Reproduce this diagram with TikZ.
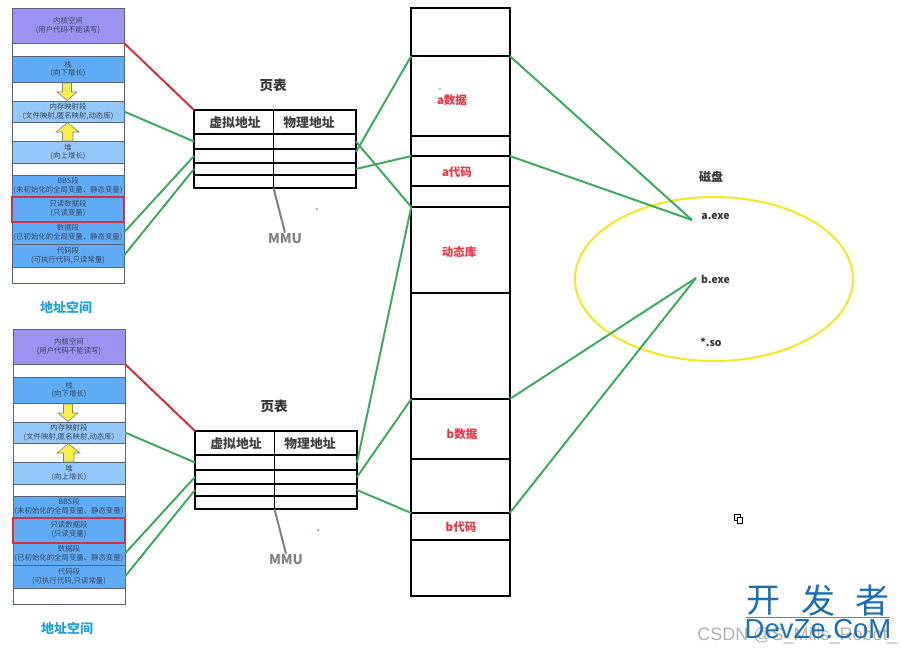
\documentclass[tikz,border=0pt]{standalone}
\usepackage{fontspec}
\setmainfont{Noto Sans CJK SC}
\newfontfamily\latinwm{Liberation Sans}
\usetikzlibrary{calc,shapes.geometric}
\definecolor{purp}{HTML}{9C92F2}
\definecolor{blu}{HTML}{5FABF6}
\definecolor{lblu}{HTML}{93C6F9}
\definecolor{edgeg}{HTML}{5A6478}
\definecolor{segtxt}{HTML}{3A4560}
\definecolor{grn}{HTML}{3FAA62}
\definecolor{rd}{HTML}{D4303F}
\definecolor{ylw}{HTML}{F5E620}
\definecolor{arrowy}{HTML}{F7EE4A}
\definecolor{titleb}{HTML}{1FA0D8}
\definecolor{memred}{HTML}{EE3344}
\definecolor{wmblue}{HTML}{1B6DB8}
\tikzset{
  seg/.style={draw=edgeg,line width=1pt,minimum width=112pt,inner sep=0pt,outer sep=0pt,align=center,
    font=\fontsize{7.4}{8.6}\selectfont,text=segtxt},
  tcell/.style={draw=black,line width=1.1pt,inner sep=0pt,outer sep=0pt,font=\bfseries\fontsize{12.8}{14}\selectfont,text=black!75,text depth=0pt,yshift=0pt},
  mem/.style={draw=black,line width=1.7pt,minimum width=98.5pt,inner sep=0pt,outer sep=0pt},
  memlbl/.style={font=\bfseries\fontsize{11.5}{13}\selectfont,text=memred,inner sep=0pt},
  gline/.style={draw=grn,line width=2pt},
  rline/.style={draw=rd,line width=2pt},
  mline/.style={draw=gray,line width=2pt},
  blockarrow/.style={draw=edgeg!80,fill=arrowy,line width=0.6pt},
  boldlbl/.style={font=\bfseries\fontsize{13.5}{15}\selectfont,text=black!80,inner sep=1pt},
  filelbl/.style={font=\bfseries\fontsize{10.5}{12}\selectfont,text=black!80,inner sep=1pt},
  disklbl/.style={font=\bfseries\fontsize{12}{14}\selectfont,text=black!80,inner sep=1pt},
  mmulbl/.style={font=\bfseries\fontsize{13.5}{15}\selectfont,text=gray,inner sep=1pt},
  addrlbl/.style={font=\bfseries\fontsize{13}{15}\selectfont,text=titleb,inner sep=1pt}
}
% name, y top, height, fill, text
\newcommand{\segbox}[5]{\node[seg,fill=#4,minimum height=#3pt,anchor=north] (#1) at (68,#2) {#5};}
\newcommand{\addrspace}{%
  \segbox{kern}{8}{35}{purp}{内核空间\\(用户代码不能读写)}
  \segbox{w1}{43}{13}{white}{}
  \segbox{stack}{56}{26}{blu}{栈\\(向下增长)}
  \segbox{w2}{82}{19}{white}{}
  \segbox{mmap}{101}{21}{lblu}{内存映射段\\(文件映射,匿名映射,动态库)}
  \segbox{w3}{122}{19}{white}{}
  \segbox{heap}{141}{22}{lblu}{堆\\(向上增长)}
  \segbox{w4}{163}{12}{white}{}
  \segbox{bbs}{175}{21}{blu}{BBS段\\(未初始化的全局变量、静态变量)}
  \segbox{ro}{196}{25}{blu}{只读数据段\\(只读变量)}
  \segbox{data}{221}{23}{blu}{数据段\\(已初始化的全局变量、静态变量)}
  \segbox{code}{244}{23}{blu}{代码段\\(可执行代码,只读常量)}
  \segbox{w5}{267}{16}{white}{}
  \node[draw=rd,line width=1.6pt,minimum width=112pt,minimum height=25pt,inner sep=0pt,anchor=north] (rofr) at (68,196) {};
  \draw[blockarrow] (62.5,83)--(71.5,83)--(71.5,92)--(77,92)--(67,100.5)--(57,92)--(62.5,92)--cycle;
  \draw[blockarrow] (62.5,141)--(73,141)--(73,132)--(79,132)--(67.5,122.5)--(56,132)--(62.5,132)--cycle;
  \node[addrlbl] (addr) at (66,307) {地址空间};
}
\newcommand{\pagetable}{%
  \node[tcell,minimum width=79.5pt,minimum height=24pt,anchor=north west] (lh) at (194,110) {};
  \node[tcell,minimum width=82.5pt,minimum height=24pt,anchor=north west] (rh) at (273.5,110) {};
  \node[tcell,inner sep=0pt,draw=none] (lht) at (235,122) {虚拟地址};
  \node[tcell,inner sep=0pt,draw=none] (rht) at (309,122) {物理地址};
  \node[tcell,minimum width=79.5pt,minimum height=15pt,anchor=north west] (l1) at (194,134) {};
  \node[tcell,minimum width=82.5pt,minimum height=15pt,anchor=north west] (r1) at (273.5,134) {};
  \node[tcell,line width=1.6pt,minimum width=79.5pt,minimum height=14pt,anchor=north west] (l2) at (194,149) {};
  \node[tcell,line width=1.6pt,minimum width=82.5pt,minimum height=14pt,anchor=north west] (r2) at (273.5,149) {};
  \node[tcell,minimum width=79.5pt,minimum height=12pt,anchor=north west] (l3) at (194,163) {};
  \node[tcell,minimum width=82.5pt,minimum height=12pt,anchor=north west] (r3) at (273.5,163) {};
  \node[tcell,minimum width=79.5pt,minimum height=13pt,anchor=north west] (l4) at (194,175) {};
  \node[tcell,minimum width=82.5pt,minimum height=13pt,anchor=north west] (r4) at (273.5,175) {};
  \draw[black,line width=1.7pt] (l2.south west)--(r2.south east) (l2.north west)--(r2.north east);
  \draw[black,line width=1.7pt] (l3.south west)--(r3.south east);
  \node[boldlbl] (ttl) at (273,85) {页表};
  \node[mmulbl] (mmu) at (285,239) {MMU};
  \draw[mline] (l4.south east) -- (mmu.north);
  \fill[grn] (317,209) circle (1pt);
}
\newcommand{\memseg}[3]{\node[mem,minimum height=#3pt,anchor=north] (#1) at (460.5,#2) {};}
\begin{document}
\begin{tikzpicture}[x=1pt,y=-1pt]
\useasboundingbox (0,0) rectangle (901,651);
% memory column
\memseg{m0}{8}{48}
\memseg{adata}{56}{80}
\memseg{m1}{136}{20}
\memseg{acode}{156}{30}
\memseg{m2}{186}{21}
\memseg{dyn}{207}{86}
\memseg{m3}{293}{106}
\memseg{bdata}{399}{60}
\memseg{m4}{459}{54}
\memseg{bcode}{513}{27}
\memseg{m5}{540}{56}
\node[memlbl] (tadata) at (452,100) {a数据};
\node[memlbl] (tacode) at (457,172) {a代码};
\node[memlbl] (tdyn) at (459,252) {动态库};
\node[memlbl] (tbdata) at (462,434) {b数据};
\node[memlbl] (tbcode) at (461,527) {b代码};
\fill[grn] (440,89) circle (0.8pt);
% address spaces and page tables
\begin{scope}[name prefix=a-]
  \addrspace
\end{scope}
\begin{scope}[name prefix=b-,shift={(1,321)}]
  \addrspace
\end{scope}
\begin{scope}[name prefix=c-]
  \pagetable
\end{scope}
\begin{scope}[name prefix=d-,shift={(1,321)}]
  \pagetable
\end{scope}
% disk
\node[draw=ylw,line width=2pt,ellipse,minimum width=278pt,minimum height=164pt,inner sep=0pt] (disk) at (714,279) {};
\node[disklbl] (dlbl) at (711,177) {磁盘};
\node[filelbl] (aexe) at (715.5,217) {a.exe};
\node[filelbl] (bexe) at (715.5,279) {b.exe};
\node[filelbl] (so) at (711,342) {*.so};
\coordinate (fa) at (692,220);
\coordinate (fb) at (696,278);
% connectors
\draw[rline] (a-kern.south east) -- (c-lh.north west);
\draw[rline] (b-kern.south east) -- (d-lh.north west);
\draw[gline] (a-mmap.east) -- (c-l1.west);
\draw[gline] (a-data.east) -- (c-l2.west);
\draw[gline] (a-code.east) -- (c-l3.west);
\draw[gline] (b-mmap.east) -- (d-l1.west);
\draw[gline] (b-data.east) -- (d-l2.west);
\draw[gline] (b-code.east) -- (d-l3.west);
\draw[gline] ([yshift=-3pt]c-r2.north east) -- (adata.north west);
\draw[gline] (c-r3.east) -- (acode.north west);
\draw[gline] (c-r1.east) -- (dyn.north west);
\draw[gline] (d-r1.east) -- (dyn.north west);
\draw[gline] (d-r2.east) -- (bdata.north west);
\draw[gline] (d-r3.east) -- (bcode.north west);
\draw[gline] (adata.north east) -- (fa);
\draw[gline] (acode.north east) -- (fa);
\draw[gline] (bdata.north east) -- (fb);
\draw[gline] (bcode.north east) -- (fb);
% small icon
\draw[black,line width=0.9pt,fill=white] (734.5,514.5) rectangle (740.5,520.5);
\draw[black,line width=0.9pt,fill=white] (737,517.5) rectangle (742.5,523.5);
% watermark
\node[inner sep=0pt,text=gray!60] (csdn) at (797.5,636) {\latinwm\fontsize{18}{20}\selectfont CSDN @S\_Mills\_Robot\_};
\node[inner sep=0pt,text=wmblue] (wk) at (763,601) {\fontsize{34}{36}\selectfont 开};
\node[inner sep=0pt,text=wmblue] (wf) at (818,601) {\fontsize{34}{36}\selectfont 发};
\node[inner sep=0pt,text=wmblue] (wz) at (872,601) {\fontsize{34}{36}\selectfont 者};
\coordinate (wl) at (746,617);
\coordinate (wr) at (890,617);
\draw[wmblue!80,line width=0.6pt] (wl)--(wr);
\node[inner sep=0pt,text=wmblue] (dz) at (818,629) {\latinwm\fontsize{27.5}{30}\selectfont DevZe.CoM};
\end{tikzpicture}
\end{document}
